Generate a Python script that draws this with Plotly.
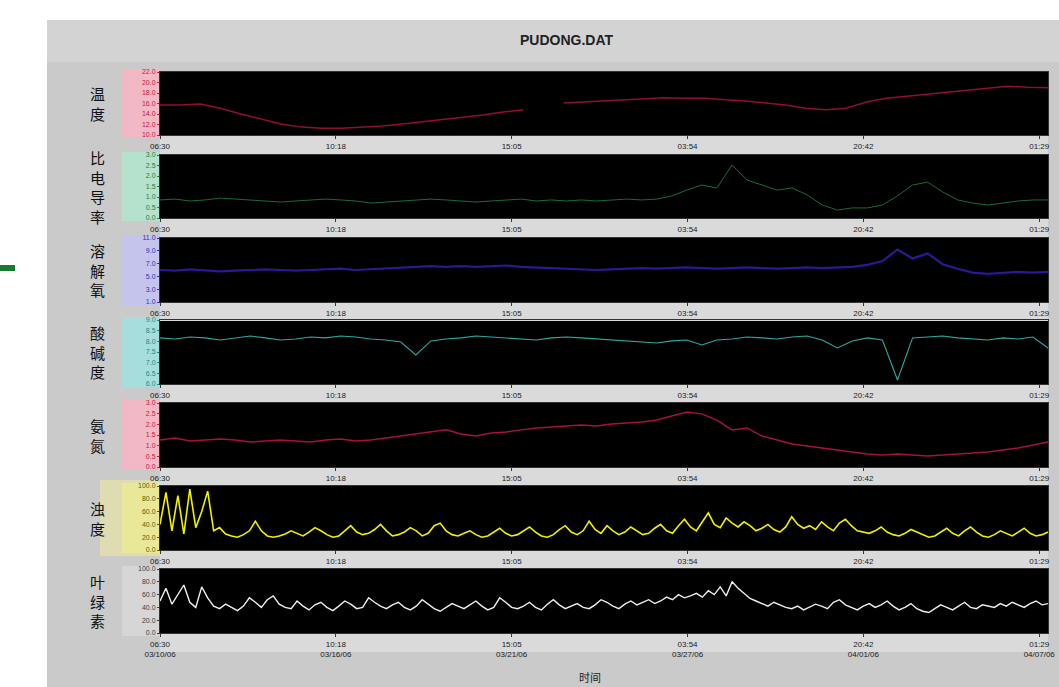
import numpy as np
import plotly.graph_objects as go

W, H = 1059, 687

# ---------------- data ----------------
title_text = "PUDONG.DAT"
x_title = "时间"
time_ticks = [0, 1, 2, 3, 4, 5]
time_labels = ["06:30", "10:18", "15:05", "03:54", "20:42", "01:29"]
date_labels = ["03/10/06", "03/16/06", "03/21/06", "03/27/06", "04/01/06", "04/07/06"]
span_days = 5.05

names = ["温度", "比电导率", "溶解氧", "酸碱度", "氨氮", "浊度", "叶绿素"]

temperature = [15.7, 15.7, 15.9, 15.1, 14.0, 13.0, 12.1, 11.5, 11.3, 11.3, 11.5, 11.7, 12.1, 12.5,
               12.9, 13.4, 13.8, 14.4, 14.8, None, 16.1, 16.3, 16.5, 16.7, 16.9, 17.1, 17.0, 17.0,
               16.7, 16.5, 16.1, 15.7, 15.1, 14.8, 15.1, 16.3, 17.0, 17.4, 17.8, 18.2, 18.6, 19.0,
               19.3, 19.1, 19.0]

conductivity = [0.86, 0.90, 0.81, 0.86, 0.95, 0.90, 0.86, 0.81, 0.76, 0.81,
                0.86, 0.90, 0.86, 0.81, 0.71, 0.76, 0.81, 0.86, 0.90, 0.86,
                0.81, 0.76, 0.81, 0.86, 0.90, 0.81, 0.86, 0.81, 0.86, 0.81,
                0.86, 0.90, 0.86, 0.90, 1.05, 1.33, 1.57, 1.43, 2.52, 1.81,
                1.57, 1.33, 1.43, 1.10, 0.62, 0.38, 0.48, 0.48, 0.62, 1.05,
                1.57, 1.71, 1.24, 0.86, 0.71, 0.62, 0.71, 0.81, 0.86, 0.86]

dissolved_oxygen = [6.0, 5.9, 6.1, 6.0, 5.8, 5.9, 6.0, 6.1, 6.0, 5.9,
                    6.0, 6.1, 6.2, 6.0, 6.1, 6.3, 6.4, 6.5, 6.6, 6.5,
                    6.6, 6.5, 6.6, 6.7, 6.5, 6.4, 6.3, 6.2, 6.1, 6.0,
                    6.1, 6.2, 6.3, 6.2, 6.3, 6.4, 6.3, 6.2, 6.3, 6.4,
                    6.3, 6.2, 6.3, 6.4, 6.3, 6.4, 6.5, 6.8, 7.4, 9.2,
                    7.8, 8.6, 6.9, 6.2, 5.6, 5.4, 5.5, 5.7, 5.6, 5.7]

ph = [8.16, 8.11, 8.20, 8.16, 8.06, 8.16, 8.25, 8.16, 8.06, 8.11,
      8.20, 8.16, 8.25, 8.20, 8.11, 8.06, 7.97, 7.36, 8.02, 8.11,
      8.16, 8.25, 8.20, 8.16, 8.11, 8.06, 8.16, 8.20, 8.16, 8.11,
      8.06, 8.02, 7.97, 7.92, 8.02, 8.06, 7.83, 8.06, 8.11, 8.20,
      8.16, 8.11, 8.20, 8.25, 8.06, 7.69, 8.02, 8.16, 8.06, 6.19,
      8.16, 8.20, 8.25, 8.16, 8.11, 8.06, 8.16, 8.11, 8.20, 7.69]

ammonia = [1.27, 1.36, 1.22, 1.27, 1.31, 1.27, 1.17, 1.22, 1.27, 1.22,
           1.17, 1.27, 1.31, 1.22, 1.27, 1.36, 1.45, 1.55, 1.64, 1.74,
           1.55, 1.45, 1.59, 1.64, 1.74, 1.83, 1.88, 1.92, 1.97, 1.92,
           2.02, 2.06, 2.11, 2.20, 2.39, 2.58, 2.49, 2.20, 1.74, 1.83,
           1.45, 1.27, 1.08, 0.98, 0.89, 0.80, 0.70, 0.61, 0.56, 0.61,
           0.56, 0.52, 0.56, 0.61, 0.66, 0.70, 0.80, 0.89, 1.03, 1.17]

turbidity = [40, 90, 30, 85, 25, 95, 35, 60, 92, 30,
             35, 25, 22, 20, 24, 30, 45, 30, 22, 20,
             22, 25, 30, 26, 22, 28, 35, 30, 24, 20,
             22, 30, 38, 28, 24, 26, 32, 40, 30, 22,
             24, 28, 35, 30, 22, 26, 38, 42, 30, 24,
             22, 26, 30, 24, 20, 22, 28, 34, 26, 22,
             24, 30, 36, 28, 22, 20, 24, 32, 38, 28,
             24, 30, 45, 32, 26, 38, 30, 24, 28, 36,
             30, 24, 26, 34, 40, 30, 26, 38, 48, 36,
             30, 45, 58, 40, 35, 50, 42, 36, 44, 38,
             30, 34, 40, 32, 28, 36, 52, 40, 34, 38,
             32, 44, 36, 30, 42, 48, 38, 30, 28, 26,
             30, 36, 28, 24, 22, 26, 32, 28, 24, 20,
             22, 28, 34, 26, 22, 30, 36, 28, 22, 20,
             24, 30, 26, 22, 28, 34, 26, 22, 24, 28]

chlorophyll = [50, 70, 45, 60, 75, 48, 40, 72, 55, 42,
               38, 45, 40, 35, 42, 55, 48, 40, 52, 58,
               45, 40, 38, 50, 42, 36, 44, 48, 40, 35,
               42, 50, 45, 38, 40, 55, 48, 42, 38, 44,
               48, 40, 36, 42, 52, 45, 38, 34, 40, 46,
               42, 38, 44, 50, 42, 36, 40, 55, 48, 40,
               38, 42, 48, 40, 36, 45, 52, 44, 38, 42,
               46, 40, 38, 44, 52, 48, 42, 38, 45, 50,
               44, 48, 52, 46, 50, 56, 52, 60, 55, 58,
               62, 56, 66, 60, 72, 58, 80, 70, 62, 54,
               50, 46, 42, 48, 44, 40, 38, 42, 36, 40,
               45, 42, 38, 48, 52, 44, 40, 36, 42, 46,
               40, 44, 50, 42, 36, 40, 46, 38, 34, 32,
               38, 44, 40, 36, 42, 48, 40, 38, 44, 42,
               40, 46, 42, 48, 44, 40, 46, 50, 44, 46]

series = [temperature, conductivity, dissolved_oxygen, ph, ammonia, turbidity, chlorophyll]
y_ranges = [[10, 22], [0, 3], [1, 11], [6, 9], [0, 3], [0, 100], [0, 100]]
y_ticks = [[10, 12, 14, 16, 18, 20, 22],
           [0, 0.5, 1, 1.5, 2, 2.5, 3],
           [1, 3, 5, 7, 9, 11],
           [6, 6.5, 7, 7.5, 8, 8.5, 9],
           [0, 0.5, 1, 1.5, 2, 2.5, 3],
           [0, 20, 40, 60, 80, 100],
           [0, 20, 40, 60, 80, 100]]

# ---------------- style ----------------
line_colors = ["#8e0f32", "#1b6a38", "#2a1896", "#2fa8a0", "#a3104a", "#f0f000", "#eeeeee"]
line_widths = [1.5, 1.0, 2.2, 1.1, 1.5, 1.6, 1.4]
strip_colors = ["#f2b8c6", "#b4e2cc", "#c4c4ec", "#a6dede", "#f2b8c6", "#e8e898", "#d6d6d6"]
tick_colors = ["#c8203c", "#1f8040", "#3030b8", "#208a8a", "#c8203c", "#606000", "#404040"]
panel_px = [(72, 135), (155, 218), (238, 302), (320, 384), (403, 467), (486, 550), (569, 633)]
x_left, x_right = 160, 1048


def fx(p):
    return p / W


def fy(p):
    return 1 - p / H


fig = go.Figure()
shapes = []
annotations = []

shapes.append(dict(type="rect", xref="paper", yref="paper", x0=0, x1=fx(47), y0=0, y1=1,
                   fillcolor="white", line=dict(width=0), layer="below"))
shapes.append(dict(type="rect", xref="paper", yref="paper", x0=0, x1=1, y0=fy(20), y1=1,
                   fillcolor="white", line=dict(width=0), layer="below"))
shapes.append(dict(type="rect", xref="paper", yref="paper", x0=fx(47), x1=1.0, y0=fy(62), y1=fy(20),
                   fillcolor="#d3d3d3", line=dict(width=0), layer="below"))
shapes.append(dict(type="rect", xref="paper", yref="paper", x0=fx(0), x1=fx(15), y0=fy(271), y1=fy(265),
                   fillcolor="#1a7a32", line=dict(width=0), layer="below"))
shapes.append(dict(type="rect", xref="paper", yref="paper", x0=fx(100), x1=fx(160), y0=fy(556), y1=fy(480),
                   fillcolor="#dedcb0", line=dict(width=0), layer="below"))

layout = dict(
    width=W, height=H,
    margin=dict(l=0, r=0, t=0, b=0, pad=0),
    paper_bgcolor="#cacaca",
    plot_bgcolor="black",
    showlegend=False,
    font=dict(family="Liberation Sans, Arial, sans-serif", size=8, color="#222"),
)

for i, vals in enumerate(series):
    k = "" if i == 0 else str(i + 1)
    top, bot = panel_px[i]
    n = len(vals)
    xs = np.linspace(0, span_days, n)
    fig.add_trace(go.Scatter(x=xs, y=vals, mode="lines", xaxis="x" + k, yaxis="y" + k,
                             line=dict(color=line_colors[i], width=line_widths[i]),
                             connectgaps=False, hoverinfo="skip"))
    if i == len(series) - 1:
        ticktext = [f"{t}<br>{d}" for t, d in zip(time_labels, date_labels)]
    else:
        ticktext = time_labels
    layout["xaxis" + k] = dict(domain=[fx(x_left), fx(x_right)], anchor="y" + k, automargin=False,
                               range=[0, span_days], tickvals=time_ticks, ticktext=ticktext,
                               ticks="outside", ticklen=3, tickcolor="#333", tickfont=dict(size=8, color="#222"),
                               showgrid=False, zeroline=False, showline=True, linecolor="#333",
                               mirror=True, fixedrange=True)
    layout["yaxis" + k] = dict(domain=[fy(bot), fy(top)], anchor="x" + k, automargin=False,
                               range=y_ranges[i], tickvals=y_ticks[i], tickformat=".1f",
                               ticks="outside", ticklen=2, tickcolor=tick_colors[i],
                               tickfont=dict(size=7, color=tick_colors[i]),
                               showgrid=False, zeroline=False, showline=True, linecolor="#333",
                               mirror=True, fixedrange=True)
    shapes.append(dict(type="rect", xref="paper", yref="paper", x0=fx(122), x1=fx(160),
                       y0=fy(bot + 3), y1=fy(top - 3), fillcolor=strip_colors[i],
                       line=dict(width=0), layer="below"))
    shapes.append(dict(type="rect", xref="paper", yref="paper", x0=fx(x_left), x1=fx(x_right),
                       y0=fy(bot + 19), y1=fy(bot), fillcolor="#dadada",
                       line=dict(width=0), layer="below"))
    annotations.append(dict(xref="paper", yref="paper", x=fx(97), y=fy((top + bot) / 2),
                            text="<br>".join(list(names[i])), showarrow=False,
                            font=dict(family="Noto Sans CJK SC", size=15, color="#111"),
                            xanchor="center", yanchor="middle"))

annotations.append(dict(xref="paper", yref="paper", x=fx(567), y=fy(40), text="<b>" + title_text + "</b>",
                        showarrow=False, font=dict(family="Liberation Sans, Arial", size=14, color="#222"),
                        xanchor="center", yanchor="middle"))
annotations.append(dict(xref="paper", yref="paper", x=fx(590), y=fy(677), text=x_title,
                        showarrow=False, font=dict(family="Noto Sans CJK SC", size=11, color="#222"),
                        xanchor="center", yanchor="middle"))

layout["shapes"] = shapes
layout["annotations"] = annotations
fig.update_layout(**layout)
fig.write_html("out.html", config={"displayModeBar": False},
               post_script="document.body.style.margin='0';")
